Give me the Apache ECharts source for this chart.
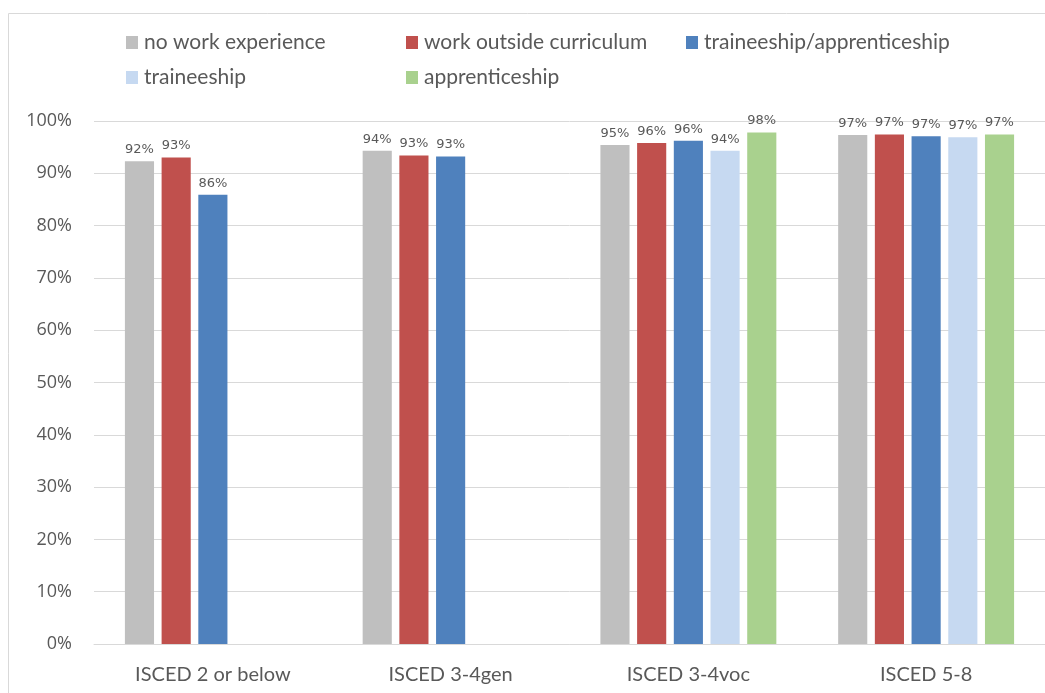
<!DOCTYPE html>
<html><head><meta charset="utf-8">
<script src="https://cdn.jsdelivr.net/npm/echarts@6/dist/echarts.min.js"></script>
<style>html,body{margin:0;padding:0;background:#fff}#c{width:1045px;height:693px}</style>
</head><body><div id="c"></div>
<script>
const categories = ["ISCED 2 or below", "ISCED 3-4gen", "ISCED 3-4voc", "ISCED 5-8"];
const seriesNames = ["no work experience", "work outside curriculum", "traineeship/apprenticeship", "traineeship", "apprenticeship"];
const noWork = [92.3, 94.3, 95.4, 97.3];
const workOutside = [93.0, 93.4, 95.8, 97.4];
const traineeApprentice = [85.9, 93.2, 96.2, 97.1];
const traineeship = [null, null, 94.3, 96.9];
const apprenticeship = [null, null, 97.8, 97.4];
const yTicks = [0, 10, 20, 30, 40, 50, 60, 70, 80, 90, 100];

const colors = ["#bfbfbf", "#c0504d", "#4f81bd", "#c6d9f1", "#a9d18e"];
const values = [noWork, workOutside, traineeApprentice, traineeship, apprenticeship];
const legendPos = [[121, 27], [401, 27], [681, 27], [121, 62], [401, 62]];

const chart = echarts.init(document.getElementById('c'));
chart.setOption({
  animation: false,
  graphic: [{type: 'rect', shape: {x: 8.5, y: 13.5, width: 1100, height: 700}, style: {fill: 'none', stroke: '#d9d9d9', lineWidth: 1}, silent: true, z: -1}],
  legend: seriesNames.map((n, i) => ({
    data: [n], left: legendPos[i][0], top: legendPos[i][1], icon: 'rect', itemWidth: 12, itemHeight: 13, itemGap: 6,
    textStyle: {fontFamily: 'Lato', fontSize: 21, color: '#595959', padding: [0, 0, 0, 1]}, selectedMode: false
  })),
  grid: {left: 94, top: 121, width: 953, height: 523, containLabel: false},
  xAxis: {
    type: 'category', data: categories,
    axisLine: {lineStyle: {color: '#d9d9d9'}}, axisTick: {show: false},
    axisLabel: {fontFamily: 'Lato', fontSize: 20, color: '#595959', margin: 21}
  },
  yAxis: {
    type: 'value', min: 0, max: 100, interval: 10,
    axisLabel: {fontFamily: 'Open Sans', fontSize: 18, color: '#595959', margin: 22, formatter: v => yTicks.includes(v) ? v + '%' : ''},
    splitLine: {lineStyle: {color: '#d9d9d9'}}, axisLine: {show: false}, axisTick: {show: false}
  },
  series: seriesNames.map((n, i) => ({
    name: n, type: 'bar', data: values[i], barGap: '26%', barCategoryGap: '26%',
    itemStyle: {color: colors[i]},
    label: {show: true, position: 'top', distance: 5, fontFamily: 'DejaVu Sans', fontSize: 13, color: '#595959',
      formatter: p => Math.round(p.value) + '%'}
  }))
});
</script></body></html>
